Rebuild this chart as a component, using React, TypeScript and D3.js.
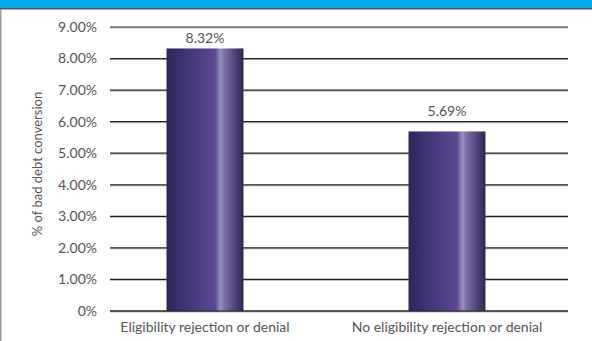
import React from "react";
import * as d3 from "d3";

const categories = ["Eligibility rejection or denial", "No eligibility rejection or denial"];
const values = [8.32, 5.69];
const valueLabels = ["8.32%", "5.69%"];
const yTicks = [0, 1, 2, 3, 4, 5, 6, 7, 8, 9];
const yTickLabels = ["0%", "1.00%", "2.00%", "3.00%", "4.00%", "5.00%", "6.00%", "7.00%", "8.00%", "9.00%"];
const yTitle = "% of bad debt conversion";

const W = 592;
const H = 341;
const font = "Lato, 'Open Sans', sans-serif";

export default function App() {
  const y = d3.scaleLinear().domain([0, 9]).range([311, 27]);
  const x = d3.scaleBand<string>().domain(categories).range([84, 568]).padding(0);
  const barW = 77;
  const gridX0 = 110;
  const gridX1 = 568;
  return (
    <svg width={W} height={H} style={{ position: "absolute", left: 0, top: 0 }}>
      <defs>
        <linearGradient id="barGrad" x1="0" x2="1" y1="0" y2="0">
          <stop offset="0" stopColor="#2c2456" />
          <stop offset="0.2" stopColor="#3d3270" />
          <stop offset="0.5" stopColor="#54418a" />
          <stop offset="0.63" stopColor="#5e4892" />
          <stop offset="0.7" stopColor="#9790bd" />
          <stop offset="0.76" stopColor="#7a6ea4" />
          <stop offset="0.9" stopColor="#4c4076" />
          <stop offset="1" stopColor="#2f2752" />
        </linearGradient>
      </defs>
      <rect x={0} y={0} width={W} height={H} fill="#fff" />
      <rect x={0} y={0} width={W} height={8} fill="#00aeef" />
      <rect x={0} y={8} width={W} height={1.5} fill="#555" />
      <rect x={0} y={9} width={1.5} height={H - 9} fill="#999" />
      {yTicks.map((t, i) => (
        <g key={t}>
          <line x1={gridX0} x2={gridX1} y1={y(t) + 1} y2={y(t) + 1} stroke="#bbb" strokeWidth={1} />
          <line x1={gridX0} x2={gridX1} y1={y(t)} y2={y(t)} stroke="#222" strokeWidth={1.2} />
          <text x={97} y={y(t)} dy="0.35em" textAnchor="end" fontFamily={font} fontSize={14} fill="#555">
            {yTickLabels[i]}
          </text>
        </g>
      ))}
      {categories.map((c, i) => {
        const cx = (x(c) as number) + x.bandwidth() / 2;
        const labelY = Math.max(y(values[i]) - 15, y(9) + 16);
        return (
          <g key={c}>
            <rect x={cx - barW / 2} y={y(values[i])} width={barW} height={y(0) - y(values[i])} fill="url(#barGrad)" />
            <text x={cx} y={labelY} textAnchor="middle" fontFamily={font} fontSize={14} fill="#555">
              {valueLabels[i]}
            </text>
            <text x={cx} y={332} textAnchor="middle" fontFamily={font} fontSize={14} fill="#555">
              {c}
            </text>
          </g>
        );
      })}
      <line x1={gridX0} x2={gridX1} y1={y(0)} y2={y(0)} stroke="#222" strokeWidth={1.2} />
      <text
        transform={`translate(42,164) rotate(-90)`}
        textAnchor="middle"
        fontFamily={font}
        fontSize={13}
        fill="#555"
      >
        {yTitle}
      </text>
    </svg>
  );
}
